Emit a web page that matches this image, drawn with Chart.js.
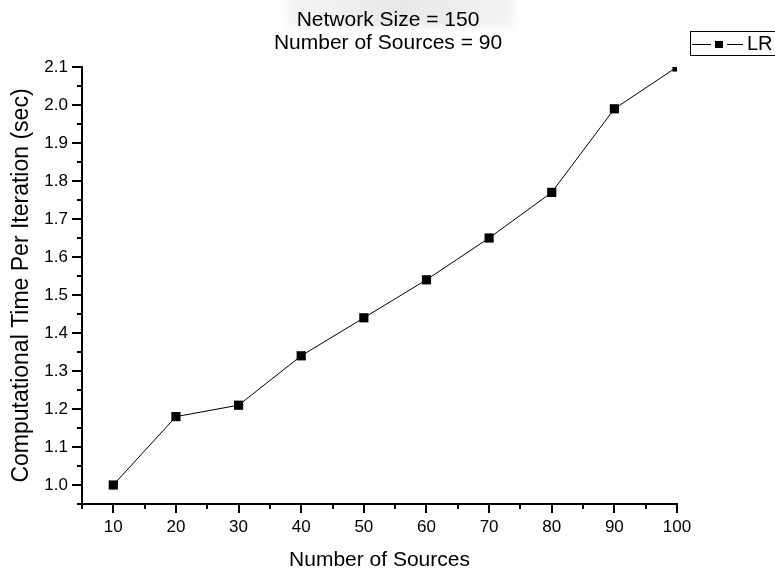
<!DOCTYPE html>
<html>
<head>
<meta charset="utf-8">
<title>Computational Time Per Iteration</title>
<script src="https://cdn.jsdelivr.net/npm/chart.js@4.4.1/dist/chart.umd.min.js"></script>
<style>
  html, body { margin: 0; padding: 0; background: #fff; }
  #wrap { position: relative; width: 775px; height: 571px; }
</style>
</head>
<body>
<div id="wrap"><canvas id="c" width="775" height="571"></canvas></div>
<script>
// Data
const sources = [10, 20, 30, 40, 50, 60, 70, 80, 90, 100];
const timeLR  = [1.00, 1.18, 1.21, 1.34, 1.44, 1.54, 1.65, 1.77, 1.99, 2.10];
const seriesName = 'LR';
const titleLines = ['Network Size = 150', 'Number of Sources = 90'];
const xTitle = 'Number of Sources';
const yTitle = 'Computational Time Per Iteration (sec)';
const xRange = [5, 100];
const yRange = [0.95, 2.1];

const FONT = '"Liberation Sans", Arial, Helvetica, sans-serif';

// Outward tick marks: long at labelled values, short in between
const tickMarks = {
  id: 'tickMarks',
  afterDraw(chart) {
    const ctx = chart.ctx;
    const xs = chart.scales.x, ys = chart.scales.y;
    ctx.save();
    ctx.strokeStyle = '#000';
    ctx.lineWidth = 2;
    ctx.beginPath();
    xs.ticks.forEach(t => {
      const px = Math.round(xs.getPixelForValue(t.value));
      const len = Math.round(t.value) % 10 === 0 ? 9 : 5;
      ctx.moveTo(px, xs.top);
      ctx.lineTo(px, xs.top + len);
    });
    ys.ticks.forEach(t => {
      const py = Math.round(ys.getPixelForValue(t.value));
      const len = Math.round(t.value * 100) % 10 === 0 ? 10 : 5;
      ctx.moveTo(ys.right, py);
      ctx.lineTo(ys.right - len, py);
    });
    ctx.stroke();
    ctx.restore();
  }
};

// Header band, two-line title and boxed legend
const decorations = {
  id: 'decorations',
  beforeDraw(chart) {
    const ctx = chart.ctx;
    ctx.save();
    ctx.filter = 'blur(3px)';
    const g = ctx.createLinearGradient(283, 0, 517, 0);
    g.addColorStop(0, '#f5f5f5');
    g.addColorStop(0.5, '#e8e8e8');
    g.addColorStop(1, '#f3f3f3');
    ctx.fillStyle = g;
    ctx.fillRect(287, -6, 226, 33);
    ctx.restore();
  },
  afterDraw(chart) {
    const ctx = chart.ctx;
    ctx.save();
    ctx.fillStyle = '#000';
    ctx.font = '21px ' + FONT;
    ctx.textAlign = 'center';
    ctx.textBaseline = 'middle';
    ctx.fillText(titleLines[0], 388, 20);
    ctx.fillText(titleLines[1], 388, 43);

    // legend
    ctx.strokeStyle = '#000';
    ctx.lineWidth = 1;
    ctx.strokeRect(690.5, 31.5, 100, 24);
    ctx.beginPath();
    ctx.moveTo(692, 44.5);
    ctx.lineTo(711, 44.5);
    ctx.moveTo(727, 44.5);
    ctx.lineTo(743, 44.5);
    ctx.stroke();
    ctx.fillRect(715, 41, 8, 7);
    ctx.textAlign = 'left';
    ctx.font = '20px ' + FONT;
    ctx.fillText(seriesName, 747, 44);
    ctx.restore();
  }
};

new Chart(document.getElementById('c'), {
  type: 'line',
  data: {
    datasets: [{
      label: seriesName,
      data: sources.map((s, i) => ({ x: s, y: timeLR[i] })),
      borderColor: '#000',
      borderWidth: 1,
      backgroundColor: '#000',
      pointStyle: 'rect',
      pointRadius: 6.5,
      pointBorderWidth: 0,
      pointBackgroundColor: '#000',
      tension: 0,
      clip: 0
    }]
  },
  options: {
    responsive: false,
    animation: false,
    devicePixelRatio: 1,
    layout: { padding: { top: 67, right: 98, left: 0, bottom: 0 } },
    plugins: {
      legend: { display: false },
      title: { display: false },
      tooltip: { enabled: false }
    },
    scales: {
      x: {
        type: 'linear',
        min: xRange[0],
        max: xRange[1],
        afterFit(scale) { scale.height = 67; },
        grid: { drawOnChartArea: false, drawTicks: false },
        border: { display: true, color: '#000', width: 2 },
        ticks: {
          stepSize: 5,
          autoSkip: false,
          maxRotation: 0,
          padding: 13,
          color: '#000',
          font: { family: FONT, size: 17 },
          callback: v => (Math.round(v) % 10 === 0 ? String(v) : '')
        },
        title: {
          display: true,
          text: xTitle,
          color: '#000',
          font: { family: FONT, size: 21, lineHeight: 1 },
          padding: { top: 0, bottom: 0 }
        }
      },
      y: {
        type: 'linear',
        min: yRange[0],
        max: yRange[1],
        afterFit(scale) { scale.width = 82; },
        grid: { drawOnChartArea: false, drawTicks: false },
        border: { display: true, color: '#000', width: 2 },
        ticks: {
          stepSize: 0.05,
          autoSkip: false,
          padding: 14,
          color: '#000',
          font: { family: FONT, size: 17 },
          callback: v => (Math.round(v * 100) % 10 === 0 ? v.toFixed(1) : '')
        },
        title: {
          display: true,
          text: yTitle,
          color: '#000',
          font: { family: FONT, size: 23, lineHeight: 1 },
          padding: { top: 10, bottom: 0 }
        }
      }
    }
  },
  plugins: [decorations, tickMarks]
});
</script>
</body>
</html>
